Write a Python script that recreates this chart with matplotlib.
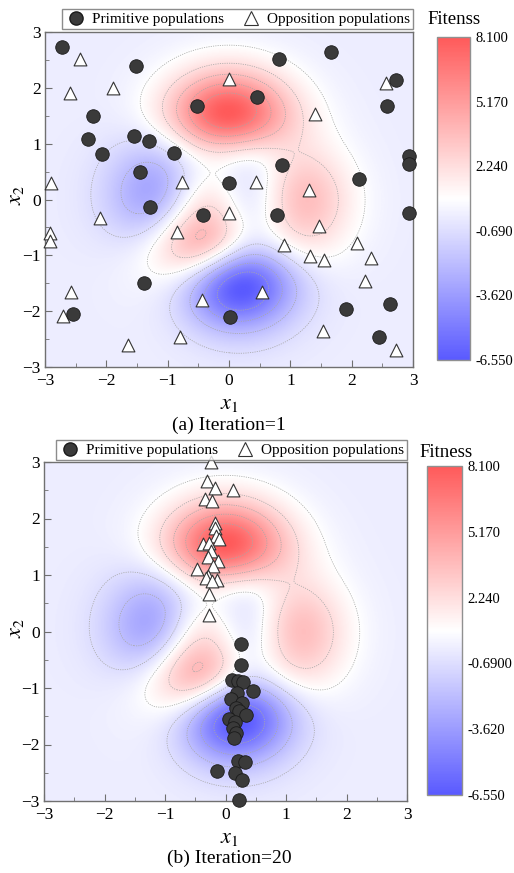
import numpy as np
import matplotlib
matplotlib.use("Agg")
import matplotlib.pyplot as plt
from matplotlib.colors import LinearSegmentedColormap, Normalize
from matplotlib.lines import Line2D

plt.rcParams['font.family'] = ['Liberation Serif', 'DejaVu Serif']
plt.rcParams['mathtext.fontset'] = 'stix'

# ---------------- data ----------------
# Panel (a) Iteration=1
prim_a_x = [-2.72, -1.52, 0.82, 1.66, 2.72, 2.58, -0.52, 0.45, -2.21, -2.30,
            -1.545, -1.31, -2.07, -0.89, -1.45, 0.0, 0.87, 2.12, 2.94, 2.94,
            -1.28, -0.43, 0.78, 2.93, -1.38, -2.55, 0.01, 1.91, 2.62, 2.45]
prim_a_y = [2.74, 2.39, 2.51, 2.64, 2.14, 1.68, 1.67, 1.84, 1.49, 1.08,
            1.14, 1.05, 0.81, 0.84, 0.49, 0.29, 0.62, 0.36, 0.78, 0.63,
            -0.14, -0.28, -0.28, -0.25, -1.50, -2.05, -2.11, -1.96, -1.88, -2.47]
opp_a_x = [-2.43, -2.60, -1.89, 0.0, 1.40, -2.91, -0.77, 0.44, 1.31, 2.56,
           -2.10, 0.0, -0.84, -2.92, -2.92, 1.47, 0.90, 2.08, 1.32, 1.55,
           2.32, 2.22, -2.57, -2.70, -0.44, 0.54, -0.80, -1.64, 1.53, 2.73]
opp_a_y = [2.51, 1.91, 2.00, 2.15, 1.54, 0.29, 0.32, 0.32, 0.17, 2.09,
           -0.34, -0.25, -0.59, -0.60, -0.75, -0.47, -0.81, -0.78, -1.02, -1.09,
           -1.05, -1.46, -1.66, -2.09, -1.80, -1.65, -2.47, -2.60, -2.35, -2.70]

# Panel (b) Iteration=20
prim_b_x = [0.25, 0.25, 0.105, 0.20, 0.29, 0.45, 0.19, 0.09, 0.27, 0.18,
            0.23, 0.34, 0.055, 0.16, 0.13, 0.18, 0.14, 0.20, 0.32, -0.14,
            0.15, 0.27, 0.215]
prim_b_y = [-0.22, -0.59, -0.86, -0.87, -0.90, -1.05, -1.08, -1.19, -1.26, -1.35,
            -1.41, -1.48, -1.55, -1.61, -1.70, -1.80, -1.88, -2.30, -2.31, -2.47,
            -2.50, -2.63, -2.98]
opp_b_x = [-0.24, -0.30, -0.17, 0.12, -0.34, -0.22, -0.17, -0.18, -0.15, -0.11,
           -0.38, -0.28, -0.24, -0.29, -0.13, -0.21, -0.47, -0.29, -0.32, -0.14,
           -0.22, -0.28, -0.27]
opp_b_y = [3.0, 2.66, 2.54, 2.51, 2.34, 2.31, 1.92, 1.84, 1.69, 1.63,
           1.54, 1.57, 1.42, 1.31, 1.25, 1.16, 1.10, 0.98, 0.95, 0.92,
           0.89, 0.66, 0.29]

cbar_ticks = [8.1, 5.17, 2.24, -0.69, -3.62, -6.55]
cbar_labels_a = ["8.100", "5.170", "2.240", "-0.690", "-3.620", "-6.550"]
cbar_labels_b = ["8.100", "5.170", "2.240", "-0.6900", "-3.620", "-6.550"]
cbar_titles = ["Fitenss", "Fitness"]
captions = ["(a) Iteration=1", "(b) Iteration=20"]
axis_ticks = [-3, -2, -1, 0, 1, 2, 3]
zmin, zmax = -6.55, 8.1

# benchmark surface (peaks function)
g = np.linspace(-3, 3, 400)
X, Y = np.meshgrid(g, g)
Z = (3 * (1 - X) ** 2 * np.exp(-X ** 2 - (Y + 1) ** 2)
     - 10 * (X / 5 - X ** 3 - Y ** 5) * np.exp(-X ** 2 - Y ** 2)
     - 1 / 3 * np.exp(-(X + 1) ** 2 - Y ** 2))

cmap = LinearSegmentedColormap.from_list(
    "bwr_soft", [(0.0, "#5a5aff"), (0.5, "#ffffff"), (1.0, "#ff5a5a")])
norm = Normalize(vmin=zmin, vmax=zmax)
levels = np.linspace(zmin, zmax, 11)[1:-1]

W, H = 514, 873
fig = plt.figure(figsize=(W / 100, H / 100), dpi=100)


def fr(x0, y0, x1, y1):
    return [x0 / W, 1 - y1 / H, (x1 - x0) / W, (y1 - y0) / H]


panels = [
    dict(ax=fr(45, 32, 413, 367), cb=fr(437, 37, 470, 360), leg_y=29,
         px=prim_a_x, py=prim_a_y, ox=opp_a_x, oy=opp_a_y,
         cbl=cbar_labels_a, title=cbar_titles[0], tpos=(454, 19),
         cap=captions[0], xl=405, capy=425, yly=195),
    dict(ax=fr(44, 462, 407, 801), cb=fr(427, 466, 462, 795), leg_y=460,
         px=prim_b_x, py=prim_b_y, ox=opp_b_x, oy=opp_b_y,
         cbl=cbar_labels_b, title=cbar_titles[1], tpos=(446, 452),
         cap=captions[1], xl=838, capy=858, yly=628),
]

spine_c = "#707070"
for p in panels:
    ax = fig.add_axes(p["ax"])
    ax.imshow(Z, extent=(-3, 3, -3, 3), origin="lower", cmap=cmap, norm=norm,
              interpolation="bilinear", aspect="auto")
    ax.contour(X, Y, Z, levels=levels, colors="#a8a8a8", linewidths=0.55,
               linestyles=[(0, (1.5, 1.5))])
    ax.scatter(p["ox"], p["oy"], marker="^", s=85, facecolor="white",
               edgecolor="#333333", linewidths=0.8, zorder=3, clip_on=False)
    ax.scatter(p["px"], p["py"], marker="o", s=95, facecolor="#3a3a3a",
               edgecolor="#1a1a1a", linewidths=0.6, zorder=4, clip_on=False)
    ax.set_xlim(-3, 3)
    ax.set_ylim(-3, 3)
    ax.set_xticks(axis_ticks)
    ax.set_yticks(axis_ticks)
    ax.set_xticks(np.arange(-2.5, 3, 1.0), minor=True)
    ax.set_yticks(np.arange(-2.5, 3, 1.0), minor=True)
    ax.tick_params(which="both", direction="in", labelsize=12.5, colors=spine_c,
                   labelcolor="black", top=False, right=False)
    ax.tick_params(axis="x", which="major", pad=4)
    ax.tick_params(axis="y", which="major", pad=3)
    ax.tick_params(which="major", length=5)
    ax.tick_params(which="minor", length=3)
    for s in ax.spines.values():
        s.set_color(spine_c)
        s.set_linewidth(1.0)
    # labels
    fig.text(229 / W, 1 - p["xl"] / H, r"$x_1$", ha="center", va="center",
             fontsize=16)
    fig.text(16 / W, 1 - p["yly"] / H, r"$x_2$", ha="center", va="center",
             fontsize=16, rotation=90)
    fig.text(229 / W, 1 - p["capy"] / H, p["cap"], ha="center", va="center",
             fontsize=14)
    # legend
    handles = [
        Line2D([], [], marker="o", ls="none", markersize=9.5,
               markerfacecolor="#3a3a3a", markeredgecolor="#1a1a1a"),
        Line2D([], [], marker="^", ls="none", markersize=9.5,
               markerfacecolor="white", markeredgecolor="#333333",
               markeredgewidth=0.8),
    ]
    leg = fig.legend(handles, ["Primitive populations", "Opposition populations"],
                     loc="lower right",
                     bbox_to_anchor=(p["ax"][0] + p["ax"][2], 1 - p["leg_y"] / H),
                     ncol=2, frameon=True, fancybox=False, fontsize=11,
                     handletextpad=0.3, columnspacing=1.0, borderpad=0.2,
                     handlelength=1.5, borderaxespad=0)
    leg.get_frame().set_edgecolor(spine_c)
    leg.get_frame().set_linewidth(1.0)
    # colorbar
    cax = fig.add_axes(p["cb"])
    cb = fig.colorbar(matplotlib.cm.ScalarMappable(norm=norm, cmap=cmap), cax=cax)
    cb.set_ticks(cbar_ticks)
    cb.set_ticklabels(p["cbl"])
    cb.ax.tick_params(length=0, labelsize=10.5, pad=4)
    cb.outline.set_edgecolor("#909090")
    cb.outline.set_linewidth(1.0)
    fig.text(p["tpos"][0] / W, 1 - p["tpos"][1] / H, p["title"], ha="center",
             va="center", fontsize=13.5)

fig.savefig("out.png", dpi=100)
